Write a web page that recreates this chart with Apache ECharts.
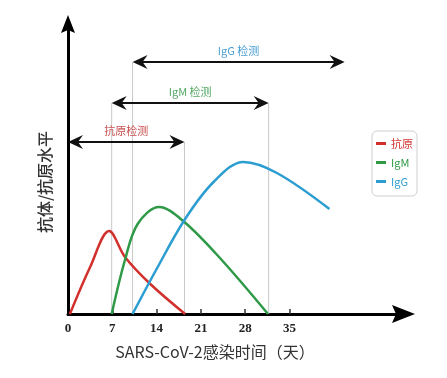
<!DOCTYPE html>
<html>
<head>
<meta charset="utf-8">
<style>
    html, body { margin: 0; padding: 0; background: #fff; }
    #chart { width: 447px; height: 378px; }
</style>
<script src="https://cdn.jsdelivr.net/npm/echarts@6/dist/echarts.min.js"></script>
</head>
<body>
<div id="chart"></div>
<script>
// 数据: x 为感染天数, y 为相对水平(无刻度)
var dayTicks = [0, 7, 14, 21, 28, 35];
var seriesNames = ['抗原', 'IgM', 'IgG'];
var antigenData = [[0.3, 0], [3.5, 47], [6.5, 83], [9, 57], [13, 30], [18.5, 0]];
var igmData = [[6.9, 0], [9, 54], [11, 90], [14.4, 107], [18.2, 93], [24, 56], [31.6, 0]];
var iggData = [[10.2, 0], [14, 45], [18.5, 95], [23, 132], [27.7, 152], [33, 141], [41.3, 105]];

// 检测窗口(双向箭头)
var detectNames = ['抗原检测', 'IgM 检测', 'IgG 检测'];
var detectStart = [0, 6.9, 10.2];
var detectEnd = [18.4, 31.7, 43.7];
var detectLevel = [172, 211, 252];

// 灰色竖线
var guideX = [6.9, 10.2, 18.4, 31.7];
var guideTop = [211, 252, 172, 211];

var lineColors = ['#d2302c', '#2e9a47', '#2b9dd1'];
var labelColors = ['#c8504e', '#55a865', '#4a9ed2'];

var chart = echarts.init(document.getElementById('chart'));

function renderGuide(params, api) {
    var p0 = api.coord([api.value(0), 0]);
    var p1 = api.coord([api.value(0), api.value(1)]);
    return {
        type: 'line',
        shape: { x1: p0[0], y1: p0[1], x2: p1[0], y2: p1[1] },
        style: { stroke: '#c8c8c8', lineWidth: 1 }
    };
}

function arrowHead(tip, dir) {
    var L = 15, W = 7, N = 10;
    return {
        type: 'polygon',
        shape: {
            points: [
                [tip[0], tip[1]],
                [tip[0] - dir * L, tip[1] - W],
                [tip[0] - dir * N, tip[1]],
                [tip[0] - dir * L, tip[1] + W]
            ]
        },
        style: { fill: '#111' }
    };
}

function renderArrow(params, api) {
    var i = params.dataIndex;
    var p0 = api.coord([api.value(0), api.value(2)]);
    var p1 = api.coord([api.value(1), api.value(2)]);
    return {
        type: 'group',
        children: [
            {
                type: 'line',
                shape: { x1: p0[0] + 8, y1: p0[1], x2: p1[0] - 8, y2: p1[1] },
                style: { stroke: '#111', lineWidth: 2 }
            },
            arrowHead(p0, -1),
            arrowHead(p1, 1),
            {
                type: 'text',
                x: (p0[0] + p1[0]) / 2,
                y: p0[1] - 11,
                style: {
                    text: detectNames[i],
                    fill: labelColors[i],
                    font: '11px "Noto Sans CJK SC"',
                    align: 'center',
                    verticalAlign: 'middle'
                }
            }
        ]
    };
}

var curveData = [antigenData, igmData, iggData];
var series = [];
series.push({
    type: 'custom',
    renderItem: renderGuide,
    data: guideX.map(function (x, i) { return [x, guideTop[i]]; }),
    encode: { x: 0, y: 1 },
    silent: true,
    z: 1
});
for (let i = 0; i < seriesNames.length; i++) {
    series.push({
        name: seriesNames[i],
        type: 'line',
        data: curveData[i],
        smooth: 0.35,
        symbol: 'none',
        lineStyle: { color: lineColors[i], width: 2.5 },
        itemStyle: { color: lineColors[i] },
        z: 3
    });
}
series.push({
    type: 'custom',
    renderItem: renderArrow,
    data: detectStart.map(function (s, i) { return [s, detectEnd[i], detectLevel[i]]; }),
    encode: { x: [0, 1], y: 2 },
    clip: false,
    silent: true,
    z: 4
});

var option = {
    animation: false,
    grid: { left: 68, right: 43.5, top: 24, bottom: 64 },
    legend: {
        orient: 'vertical',
        left: 372,
        top: 131,
        padding: [6, 4, 8, 4],
        itemGap: 6,
        itemWidth: 10,
        itemHeight: 3,
        icon: 'rect',
        borderColor: '#cfcfcf',
        borderWidth: 1,
        borderRadius: 5,
        textStyle: { fontSize: 11, lineHeight: 13, fontFamily: 'Noto Sans CJK SC' },
        data: seriesNames.map(function (n, i) {
            return { name: n, textStyle: { color: lineColors[i] } };
        })
    },
    xAxis: {
        type: 'value',
        min: 0,
        max: 53,
        splitLine: { show: false },
        axisLine: {
            lineStyle: { color: '#000', width: 3 },
            symbol: ['none', 'path://M9,0 L18,23 L9,19 L0,23 Z'],
            symbolSize: [18, 23]
        },
        axisTick: {
            inside: true,
            length: 5,
            customValues: [7, 14, 21, 28, 35],
            lineStyle: { color: '#333', width: 1.5 }
        },
        axisLabel: {
            customValues: dayTicks,
            margin: 8,
            color: '#222',
            fontSize: 13,
            fontWeight: 'bold',
            fontFamily: 'Liberation Serif'
        }
    },
    yAxis: {
        type: 'value',
        min: 0,
        max: 290,
        splitLine: { show: false },
        axisTick: { show: false },
        axisLabel: { show: false },
        axisLine: {
            show: true,
            lineStyle: { color: '#000', width: 3 },
            symbol: ['none', 'path://M7,0 L14,18 L7,15 L0,18 Z'],
            symbolSize: [14, 18]
        }
    },
    graphic: [
        {
            type: 'text',
            x: 215,
            y: 352,
            style: {
                text: 'SARS-CoV-2感染时间（天）',
                fill: '#333',
                font: '16px "Noto Sans CJK SC"',
                align: 'center',
                verticalAlign: 'middle'
            }
        },
        {
            type: 'text',
            x: 45,
            y: 182,
            rotation: Math.PI / 2,
            style: {
                text: '抗体/抗原水平',
                fill: '#333',
                font: '500 16px "Noto Sans CJK SC"',
                align: 'center',
                verticalAlign: 'middle'
            }
        }
    ],
    series: series
};

chart.setOption(option);
</script>
</body>
</html>
